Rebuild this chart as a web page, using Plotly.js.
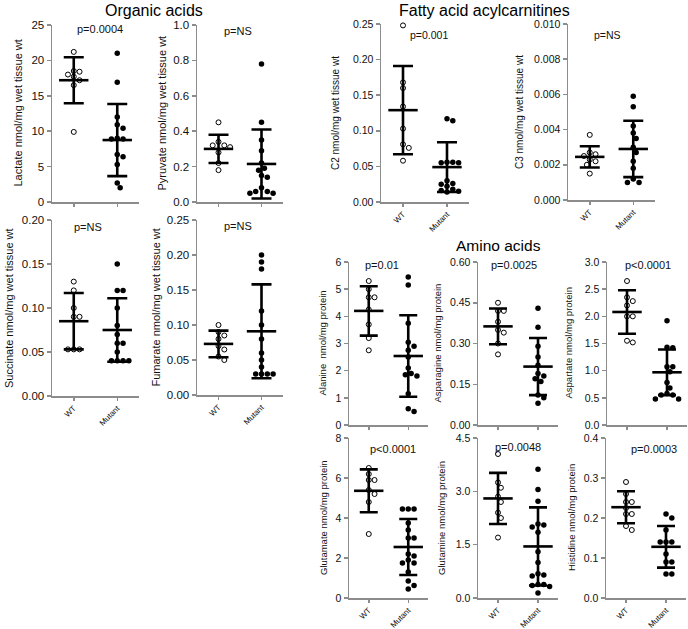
<!DOCTYPE html>
<html><head><meta charset="utf-8">
<script src="https://cdn.plot.ly/plotly-3.0.1.min.js"></script>
<style>html,body{margin:0;padding:0;background:#fff}#chart{width:688px;height:629px}</style>
</head><body><div id="chart"></div>
<script>
// ---------------- DATA ----------------
const groups = ['WT', 'Mutant'];

const lactateWT = [21.2, 18.5, 18.4, 18.0, 17.7, 17.2, 16.5, 9.9];
const lactateMut = [21.0, 16.9, 12.0, 10.9, 10.4, 9.0, 8.9, 8.9, 6.7, 6.4, 5.3, 2.7, 2.0];
const lactateMean = [17.2, 8.75];
const lactateSD = [3.25, 5.1];

const pyruvateWT = [0.45, 0.34, 0.32, 0.32, 0.31, 0.28, 0.22, 0.18];
const pyruvateMut = [0.78, 0.45, 0.35, 0.29, 0.22, 0.19, 0.18, 0.15, 0.14, 0.08, 0.06, 0.05, 0.05, 0.06];
const pyruvateMean = [0.30, 0.215];
const pyruvateSD = [0.08, 0.195];

const succinateWT = [0.13, 0.12, 0.10, 0.09, 0.09, 0.053, 0.053, 0.053];
const succinateMut = [0.15, 0.12, 0.12, 0.10, 0.08, 0.07, 0.06, 0.06, 0.05, 0.04, 0.04, 0.04, 0.04];
const succinateMean = [0.085, 0.075];
const succinateSD = [0.032, 0.036];

const fumarateWT = [0.10, 0.09, 0.085, 0.08, 0.07, 0.065, 0.055, 0.05];
const fumarateMut = [0.20, 0.19, 0.18, 0.12, 0.10, 0.08, 0.06, 0.05, 0.04, 0.03, 0.03, 0.03, 0.03];
const fumarateMean = [0.073, 0.091];
const fumarateSD = [0.019, 0.067];

const c2WT = [0.248, 0.168, 0.160, 0.134, 0.103, 0.081, 0.076, 0.058];
const c2Mut = [0.117, 0.114, 0.056, 0.056, 0.055, 0.055, 0.030, 0.026, 0.025, 0.022, 0.018, 0.016, 0.015, 0.014];
const c2Mean = [0.129, 0.049];
const c2SD = [0.062, 0.035];

const c3WT = [0.0037, 0.0027, 0.0026, 0.0025, 0.0023, 0.0022, 0.0020, 0.0015];
const c3Mut = [0.0059, 0.0053, 0.0042, 0.0038, 0.0035, 0.0030, 0.0027, 0.0022, 0.0018, 0.0012, 0.0010, 0.0010];
const c3Mean = [0.00245, 0.0029];
const c3SD = [0.0006, 0.0016];

const alanineWT = [5.3, 5.0, 4.7, 4.7, 4.25, 3.7, 3.2, 2.75];
const alanineMut = [5.45, 5.15, 3.75, 3.05, 2.9, 2.75, 2.5, 2.1, 1.9, 1.85, 1.8, 1.15, 0.6, 0.5];
const alanineMean = [4.2, 2.54];
const alanineSD = [0.91, 1.5];

const asparagineWT = [0.45, 0.42, 0.42, 0.38, 0.35, 0.34, 0.30, 0.26];
const asparagineMut = [0.43, 0.36, 0.29, 0.25, 0.22, 0.19, 0.18, 0.17, 0.16, 0.11, 0.10, 0.08];
const asparagineMean = [0.363, 0.215];
const asparagineSD = [0.066, 0.105];

const aspartateWT = [2.65, 2.35, 2.28, 2.2, 2.0, 2.0, 1.55, 1.52];
const aspartateMut = [1.92, 1.43, 1.42, 1.07, 1.07, 0.98, 0.78, 0.68, 0.58, 0.55, 0.55, 0.48, 0.48];
const aspartateMean = [2.08, 0.97];
const aspartateSD = [0.40, 0.42];

const glutamateWT = [6.5, 6.2, 5.9, 5.9, 5.4, 5.2, 4.8, 3.2];
const glutamateMut = [4.45, 4.45, 4.45, 3.75, 3.4, 3.0, 3.0, 2.2, 2.1, 1.9, 1.75, 1.75, 1.3, 0.85, 0.62, 0.45];
const glutamateMean = [5.36, 2.55];
const glutamateSD = [1.07, 1.4];

const glutamineWT = [4.05, 3.25, 3.1, 2.85, 2.7, 2.4, 2.25, 1.7];
const glutamineMut = [3.62, 3.05, 2.72, 2.08, 2.05, 2.0, 1.85, 1.3, 1.0, 0.68, 0.65, 0.62, 0.38, 0.35, 0.38, 0.32, 0.14];
const glutamineMean = [2.8, 1.45];
const glutamineSD = [0.72, 1.1];

const histidineWT = [0.29, 0.26, 0.24, 0.24, 0.225, 0.21, 0.21, 0.18, 0.17];
const histidineMut = [0.21, 0.20, 0.17, 0.14, 0.14, 0.14, 0.11, 0.09, 0.09, 0.06, 0.06];
const histidineMean = [0.227, 0.128];
const histidineSD = [0.04, 0.052];

const sectionTitles = ['Organic acids', 'Fatty acid acylcarnitines', 'Amino acids'];

// ---------------- LAYOUT CONFIG ----------------
const W = 688, H = 629;
const FONT = 'Liberation Sans, Arial, sans-serif';
// box: [axisLeftPx, axisRightPx, topPx, zeroPx]
const panels = [
  {wt: lactateWT, mut: lactateMut, mean: lactateMean, sd: lactateSD, title: 'Lactate nmol/mg wet tissue wt', p: 'p=0.0004',
   ymax: 25, dtick: 5, fmt: '.0f', box: [52, 139, 25, 202], pPos: [100, 29], tX: 17, xl: false, tf: 11.5, ttf: 11, pf: 11, cap: 10},
  {wt: pyruvateWT, mut: pyruvateMut, mean: pyruvateMean, sd: pyruvateSD, title: 'Pyruvate nmol/mg wet tissue wt', p: 'p=NS',
   ymax: 1.0, dtick: 0.2, fmt: '.1f', box: [197, 283, 25, 202], pPos: [238, 31], tX: 161, xl: false, tf: 11.5, ttf: 11, pf: 11, cap: 10},
  {wt: succinateWT, mut: succinateMut, mean: succinateMean, sd: succinateSD, title: 'Succinate nmol/mg wet tissue wt', p: 'p=NS',
   ymax: 0.20, dtick: 0.05, fmt: '.2f', box: [52, 139, 220, 396], pPos: [88, 227], tX: 9, xl: true, tf: 11.5, ttf: 11, pf: 11, cap: 10},
  {wt: fumarateWT, mut: fumarateMut, mean: fumarateMean, sd: fumarateSD, title: 'Fumarate nmol/mg wet tissue wt', p: 'p=NS',
   ymax: 0.25, dtick: 0.05, fmt: '.2f', box: [197, 283, 220, 395], pPos: [238, 226], tX: 155, xl: true, tf: 11.5, ttf: 11, pf: 11, cap: 10},
  {wt: c2WT, mut: c2Mut, mean: c2Mean, sd: c2SD, title: 'C2 nmol/mg wet tissue wt', p: 'p=0.001',
   ymax: 0.25, dtick: 0.05, fmt: '.2f', box: [381, 469, 24, 202], pPos: [429, 35], tX: 335, xl: true, tf: 10.5, ttf: 10, pf: 10.5, cap: 10},
  {wt: c3WT, mut: c3Mut, mean: c3Mean, sd: c3SD, title: 'C3 nmol/mg wet tissue wt', p: 'p=NS',
   ymax: 0.010, dtick: 0.002, fmt: '.3f', box: [568, 655, 24, 200], pPos: [607, 35], tX: 520, xl: true, tf: 10.5, ttf: 10, pf: 10.5, cap: 10},
  {wt: alanineWT, mut: alanineMut, mean: alanineMean, sd: alanineSD, title: 'Alanine  nmol/mg protein', p: 'p=0.01',
   ymax: 6, dtick: 1, fmt: '.0f', box: [349, 428, 262, 425], pPos: [382, 265], tX: 322, xl: false, tf: 10.5, ttf: 9.5, pf: 11, cap: 9},
  {wt: asparagineWT, mut: asparagineMut, mean: asparagineMean, sd: asparagineSD, title: 'Asparagine nmol/mg protein', p: 'p=0.0025',
   ymax: 0.60, dtick: 0.15, fmt: '.2f', box: [478, 558, 262, 425], pPos: [514, 265], tX: 437, xl: false, tf: 10.5, ttf: 9.5, pf: 11, cap: 9},
  {wt: aspartateWT, mut: aspartateMut, mean: aspartateMean, sd: aspartateSD, title: 'Aspartate nmol/mg protein', p: 'p<0.0001',
   ymax: 3.0, dtick: 0.5, fmt: '.1f', box: [607, 687, 262, 425], pPos: [648, 265], tX: 568, xl: false, tf: 10.5, ttf: 9.5, pf: 11, cap: 9},
  {wt: glutamateWT, mut: glutamateMut, mean: glutamateMean, sd: glutamateSD, title: 'Glutamate nmol/mg protein', p: 'p<0.0001',
   ymax: 8, dtick: 2, fmt: '.0f', box: [349, 428, 438, 598], pPos: [393, 449], tX: 323, xl: true, tf: 10.5, ttf: 9.5, pf: 11, cap: 9},
  {wt: glutamineWT, mut: glutamineMut, mean: glutamineMean, sd: glutamineSD, title: 'Glutamine nmol/mg protein', p: 'p=0.0048',
   ymax: 4.5, dtick: 1.5, fmt: '.1f', box: [478, 558, 438, 598], pPos: [518, 447], tX: 441, xl: true, tf: 10.5, ttf: 9.5, pf: 11, cap: 9},
  {wt: histidineWT, mut: histidineMut, mean: histidineMean, sd: histidineSD, title: 'Histidine nmol/mg protein', p: 'p=0.0003',
   ymax: 0.4, dtick: 0.1, fmt: '.1f', box: [606, 686, 438, 598], pPos: [654, 449], tX: 571, xl: true, tf: 10.5, ttf: 9.5, pf: 11, cap: 9}
];
const sectionPos = [[154, 10, 16], [484, 10, 16], [499, 246, 15.5]];

// ---------------- BUILD ----------------
const px = x => x / W;
const py = y => 1 - y / H;

// deterministic beeswarm (column scatter) in pixel space
function swarm(vals, center, pxPerX, pxPerY, d) {
  const order = vals.map((v, i) => i).sort((a, b) => vals[b] - vals[a]);
  const placed = [];
  const xs = new Array(vals.length);
  order.forEach(i => {
    const yp = vals[i] * pxPerY;
    for (let k = 0; k < 60; k++) {
      const off = (k === 0 ? 0 : (k % 2 === 1 ? 1 : -1) * Math.ceil(k / 2)) * d / 2;
      if (placed.every(p => (p.x - off) ** 2 + (p.y - yp) ** 2 >= d * d * 0.92)) {
        placed.push({x: off, y: yp});
        xs[i] = center + off / pxPerX;
        break;
      }
    }
  });
  return xs;
}

const traces = [];
const layout = {
  width: W, height: H, margin: {l: 0, r: 0, t: 0, b: 0},
  paper_bgcolor: '#fff', plot_bgcolor: 'rgba(0,0,0,0)',
  showlegend: false, hovermode: false,
  font: {family: FONT, color: '#111'},
  annotations: []
};
const AX = '#8c8c8c';

panels.forEach((p, i) => {
  const n = i + 1;
  const xa = n === 1 ? 'x' : 'x' + n;
  const ya = n === 1 ? 'y' : 'y' + n;
  const [l, r, t, b] = p.box;
  const pxPerX = (r - l) / 2;
  const pxPerY = (b - t) / p.ymax;
  const d = 5.8;
  const xw = swarm(p.wt, 0, pxPerX, pxPerY, d);
  const xm = swarm(p.mut, 1, pxPerX, pxPerY, d);

  traces.push({type: 'scatter', mode: 'markers', xaxis: xa, yaxis: ya, x: xw, y: p.wt, cliponaxis: false,
    marker: {symbol: 'circle-open', size: 5, color: '#000', line: {width: 1, color: '#000'}}});
  traces.push({type: 'scatter', mode: 'markers', xaxis: xa, yaxis: ya, x: xm, y: p.mut, cliponaxis: false,
    marker: {symbol: 'circle', size: 5.5, color: '#000'}});
  traces.push({type: 'scatter', mode: 'markers', xaxis: xa, yaxis: ya, x: [0, 1], y: p.mean, cliponaxis: false,
    marker: {symbol: 'line-ew', size: 21, color: '#000', line: {width: 2.6, color: '#000'}},
    error_y: {type: 'data', array: p.sd, visible: true, color: '#000', thickness: 2.6, width: p.cap}});

  layout['xaxis' + (n === 1 ? '' : n)] = {
    domain: [px(l), px(r)], anchor: ya, range: [-0.5, 1.5],
    tickvals: [0, 1], ticktext: groups, showticklabels: p.xl, tickangle: -45,
    tickfont: {size: 8, family: FONT, color: '#111'},
    showline: true, linecolor: AX, linewidth: 1.5, ticks: 'outside', ticklen: 3, tickwidth: 1.5, tickcolor: AX,
    showgrid: false, zeroline: false, fixedrange: true
  };
  layout['yaxis' + (n === 1 ? '' : n)] = {
    domain: [py(b), py(t)], anchor: xa, range: [0, p.ymax],
    tick0: 0, dtick: p.dtick, tickformat: p.fmt,
    tickfont: {size: p.tf, family: FONT, color: '#111'},
    showline: true, linecolor: AX, linewidth: 1.5, ticks: 'outside', ticklen: 4, tickwidth: 1.5, tickcolor: AX,
    showgrid: false, zeroline: false, fixedrange: true
  };
  layout.annotations.push({xref: 'paper', yref: 'paper', x: px(p.tX), y: py((t + b) / 2), text: p.title,
    textangle: -90, showarrow: false, xanchor: 'center', yanchor: 'middle',
    font: {size: p.ttf, family: FONT, color: '#111'}});
  layout.annotations.push({xref: 'paper', yref: 'paper', x: px(p.pPos[0]), y: py(p.pPos[1]), text: p.p,
    showarrow: false, xanchor: 'center', yanchor: 'middle', font: {size: p.pf, family: FONT, color: '#111'}});
});

sectionTitles.forEach((s, i) => {
  const [x, y, f] = sectionPos[i];
  layout.annotations.push({xref: 'paper', yref: 'paper', x: px(x), y: py(y), text: s, showarrow: false,
    xanchor: 'center', yanchor: 'middle', font: {size: f, family: FONT, color: '#000'}});
});

Plotly.newPlot('chart', traces, layout, {staticPlot: true, displayModeBar: false});
</script>
</body></html>
